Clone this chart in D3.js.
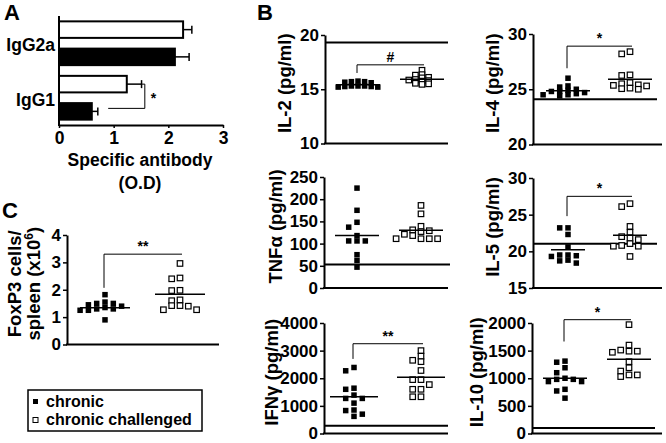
<!DOCTYPE html>
<html><head><meta charset="utf-8">
<script src="https://cdn.jsdelivr.net/npm/d3@7"></script>
<style>
body{margin:0;background:#fff}
svg{display:block}
text{font-family:"Liberation Sans",Arial,sans-serif;font-weight:bold;fill:#000}
</style>
</head><body>
<svg id="chart" width="666" height="443"></svg>
<script>
// ---------- DATA ----------
const groups = ["chronic", "chronic challenged"];

// Panel A: specific antibody (O.D)
const abCategories = ["IgG2a", "IgG1"];
const abChallenged = [2.27, 1.24];
const abChallengedErr = [0.16, 0.27];
const abChronic = [2.12, 0.60];
const abChronicErr = [0.26, 0.11];
const abTicks = [0, 1, 2, 3];

// Panel B cytokines
const il2Chronic = [15.75, 15.7, 15.7, 15.65, 15.6, 15.3, 15.3, 15.3, 15.25, 15.25, 15.2, 15.2];
const il2Challenged = [16.75, 16.35, 16.3, 16.1, 16.05, 15.9, 15.85, 15.8, 15.75, 15.55, 15.5, 15.45];
const il2Means = [15.42, 15.93];
const il2Ticks = [10, 15, 20];

const il4Chronic = [26.0, 25.3, 25.2, 25.0, 24.9, 24.8, 24.8, 24.7, 24.6, 24.5, 24.5, 24.4];
const il4Challenged = [28.4, 28.2, 26.3, 26.25, 25.6, 25.5, 25.4, 25.35, 25.3, 25.1, 25.05, 25.0];
const il4Means = [24.87, 25.9];
const il4Ticks = [20, 25, 30];

const tnfChronic = [225, 175, 148, 137, 118, 106, 106, 106, 75, 62, 47];
const tnfChallenged = [186, 167, 139, 131, 129, 127, 121, 118, 111, 111, 111, 111];
const tnfMeans = [118, 130];
const tnfTicks = [0, 50, 100, 150, 200, 250];

const il5Chronic = [23.2, 23.2, 22.3, 20.6, 19.5, 19.5, 19.4, 19.3, 18.8, 18.7, 18.4];
const il5Challenged = [26.5, 26.1, 23.4, 22.6, 22.0, 21.8, 21.6, 21.05, 20.8, 20.7, 20.7, 19.3];
const il5Means = [20.2, 22.2];
const il5Ticks = [15, 20, 25, 30];

const ifnChronic = [2390, 2270, 1640, 1600, 1390, 1270, 1270, 1100, 850, 830, 700, 620];
const ifnChallenged = [3000, 2800, 2650, 2600, 2280, 1950, 1950, 1770, 1600, 1600, 1330, 1330];
const ifnMeans = [1330, 2036];
const ifnTicks = [0, 1000, 2000, 3000, 4000];

const il10Chronic = [1310, 1290, 1190, 1100, 1000, 980, 980, 940, 940, 800, 770, 640];
const il10Challenged = [1970, 1600, 1510, 1490, 1490, 1470, 1300, 1190, 1130, 1060, 1060, 1030];
const il10Means = [1000, 1345];
const il10Ticks = [0, 500, 1000, 1500, 2000];

// Panel C: FoxP3 cells / spleen (x10^6)
const foxChronic = [1.82, 1.55, 1.5, 1.5, 1.45, 1.4, 1.35, 1.3, 1.3, 1.25, 1.25, 0.9];
const foxChallenged = [2.96, 2.43, 2.40, 1.98, 1.97, 1.63, 1.60, 1.42, 1.42, 1.40, 1.27, 1.27];
const foxMeans = [1.34, 1.84];
const foxTicks = [0, 1, 2, 3, 4];

// ---------- DRAW ----------
const svg = d3.select("#chart");
const fmt = d3.format("d");

function styleAxis(sel, fs) {
  sel.select(".domain").attr("stroke", "#000").attr("stroke-width", 2);
  sel.selectAll(".tick line").attr("stroke", "#000").attr("stroke-width", 1.5);
  sel.selectAll(".tick text").style("font-size", fs + "px").style("font-weight", "bold")
     .style("font-family", '"Liberation Sans",Arial,sans-serif').attr("fill", "#000");
}

function spread(vals, y, cx, step, dxTh, dyTh) {
  const placed = [];
  return vals.map(v => {
    const py = y(v);
    for (let k = 0; k < 40; k++) {
      const off = k === 0 ? 0 : (k % 2 ? -1 : 1) * Math.ceil(k / 2) * step / 2;
      const px = cx + off;
      if (!placed.some(p => Math.abs(p[0] - px) < dxTh && Math.abs(p[1] - py) < dyTh)) {
        placed.push([px, py]);
        return [px, py];
      }
    }
    return [cx, py];
  });
}

function scatterPanel(o) {
  const g = svg.append("g");
  const y = d3.scaleLinear().domain(o.domain).range([o.bottom, o.top]);
  const x = d3.scalePoint().domain(groups).range([o.x0 + o.c1, o.x0 + o.c2]);
  const ax = g.append("g").attr("transform", `translate(${o.x0},0)`)
    .call(d3.axisLeft(y).tickValues(o.ticks).tickFormat(fmt).tickSize(4).tickPadding(2).tickSizeOuter(0));
  styleAxis(ax, 17);
  g.append("line").attr("x1", o.x0 - 1).attr("x2", o.x0 + o.w)
    .attr("y1", y(o.domain[0])).attr("y2", y(o.domain[0]))
    .attr("stroke", "#000").attr("stroke-width", 2);
  if (o.ref != null) {
    g.append("line").attr("x1", o.x0).attr("x2", o.x0 + o.refW)
      .attr("y1", y(o.ref)).attr("y2", y(o.ref))
      .attr("stroke", "#000").attr("stroke-width", 2);
  }
  const size = 5.5, step = o.step || 8.3;
  [o.a, o.b].forEach((vals, i) => {
    const pts = spread(vals, y, x(groups[i]), step, o.dxTh || 6, o.dyTh || 5);
    g.selectAll(null).data(pts).join("rect")
      .attr("x", d => d[0] - size / 2).attr("y", d => d[1] - size / 2)
      .attr("width", size).attr("height", size)
      .attr("fill", i === 0 ? "#000" : "#fff")
      .attr("stroke", "#000").attr("stroke-width", i === 0 ? 0 : 1.2);
  });
  g.selectAll(null).data(o.means).join("line")
    .attr("x1", (d, i) => x(groups[i]) - o.mw).attr("x2", (d, i) => x(groups[i]) + o.mw)
    .attr("y1", d => y(d)).attr("y2", d => y(d))
    .attr("stroke", "#000").attr("stroke-width", 1.5);
  if (o.sig) {
    const xl = x(groups[0]) - 1, xr = x(groups[1]) + 2;
    g.append("path").attr("d", `M${xl},${y(o.bDrop)}V${y(o.bTop)}H${xr}`)
      .attr("fill", "none").attr("stroke", "#000").attr("stroke-width", 1);
    g.append("text").attr("x", (xl + xr) / 2).attr("y", y(o.bTop) - 3)
      .attr("text-anchor", "middle").style("font-size", "14px").text(o.sig);
  }
  const cy = (o.top + o.bottom) / 2 - 6;
  g.append("text").attr("transform", `translate(${o.lx},${cy}) rotate(-90)`)
    .attr("text-anchor", "middle").attr("dy", "0.35em").style("font-size", "18.5px").text(o.label);
  if (o.label2) {
    const t2 = g.append("text").attr("transform", `translate(${o.lx2},${cy}) rotate(-90)`)
      .attr("text-anchor", "middle").attr("dy", "0.35em").style("font-size", "18.5px");
    t2.append("tspan").text(o.label2[0]);
    t2.append("tspan").attr("dy", -7).style("font-size", "12px").text(o.label2[1]);
    t2.append("tspan").attr("dy", 7).text(o.label2[2]);
  }
}

scatterPanel({x0: 325, w: 123, top: 35, bottom: 143.5, domain: [10, 20], ticks: il2Ticks,
  a: il2Chronic, b: il2Challenged, means: il2Means, ref: 19.3, refW: 123, c1: 33, c2: 97, mw: 22,
  step: 6.6, dxTh: 6, dyTh: 3, sig: "#", bTop: 17.25, bDrop: 16.5, label: "IL-2 (pg/ml)", lx: 285});
scatterPanel({x0: 533, w: 129, top: 34, bottom: 144.5, domain: [20, 30], ticks: il4Ticks,
  a: il4Chronic, b: il4Challenged, means: il4Means, ref: 24.1, refW: 124, c1: 35, c2: 97, mw: 22,
  dyTh: 4, sig: "*", bTop: 28.9, bDrop: 26.9, label: "IL-4 (pg/ml)", lx: 493});
scatterPanel({x0: 324, w: 124, top: 177, bottom: 288, domain: [0, 250], ticks: tnfTicks,
  a: tnfChronic, b: tnfChallenged, means: tnfMeans, ref: 53, refW: 126, c1: 33, c2: 97, mw: 22,
  sig: null, label: "TNFα (pg/ml)", lx: 276});
scatterPanel({x0: 533, w: 129, top: 178, bottom: 288, domain: [15, 30], ticks: il5Ticks,
  a: il5Chronic, b: il5Challenged, means: il5Means, ref: 21.05, refW: 124, c1: 35, c2: 97, mw: 17,
  sig: "*", bTop: 27.5, bDrop: 24.8, label: "IL-5 (pg/ml)", lx: 493});
scatterPanel({x0: 324, w: 124, top: 323, bottom: 433.5, domain: [0, 4000], ticks: ifnTicks,
  a: ifnChronic, b: ifnChallenged, means: ifnMeans, ref: 280, refW: 124, c1: 30, c2: 97, mw: 24,
  sig: "**", bTop: 3250, bDrop: 2700, label: "IFNγ (pg/ml)", lx: 272});
scatterPanel({x0: 532, w: 130, top: 323, bottom: 433.5, domain: [0, 2000], ticks: il10Ticks,
  a: il10Chronic, b: il10Challenged, means: il10Means, ref: 100, refW: 123, c1: 33, c2: 97, mw: 22,
  sig: "*", bTop: 2060, bDrop: 1665, label: "IL-10 (pg/ml)", lx: 477});
scatterPanel({x0: 67, w: 152, top: 235, bottom: 344.5, domain: [0, 4], ticks: foxTicks,
  a: foxChronic, b: foxChallenged, means: foxMeans, ref: null, c1: 38, c2: 113, mw: 25,
  dyTh: 4.5, sig: "**", bTop: 3.3, bDrop: 2.07, label: "FoxP3 cells/", lx: 15,
  label2: ["spleen (x10", "6", ")"], lx2: 34});

// Panel A bars
(function () {
  const g = svg.append("g");
  const x = d3.scaleLinear().domain([0, 3]).range([59, 223]);
  const rows = [];
  abCategories.forEach((c, i) => {
    rows.push({key: c + "-ch", v: abChallenged[i], e: abChallengedErr[i], fill: "#fff"});
    rows.push({key: c + "-c", v: abChronic[i], e: abChronicErr[i], fill: "#000"});
  });
  const y = d3.scaleBand().domain(rows.map(r => r.key)).range([16, 125]).paddingInner(0.32).paddingOuter(0.16);
  rows.forEach(r => {
    const cy = y(r.key) + y.bandwidth() / 2;
    g.append("line").attr("x1", x(r.v)).attr("x2", x(r.v + r.e)).attr("y1", cy).attr("y2", cy)
      .attr("stroke", "#000").attr("stroke-width", 1.5);
    g.append("line").attr("x1", x(r.v + r.e)).attr("x2", x(r.v + r.e)).attr("y1", cy - 4).attr("y2", cy + 4)
      .attr("stroke", "#000").attr("stroke-width", 1.5);
  });
  g.selectAll(null).data(rows).join("rect")
    .attr("x", x(0)).attr("y", d => y(d.key) + 1)
    .attr("width", d => x(d.v) - x(0)).attr("height", y.bandwidth() - 2)
    .attr("fill", d => d.fill).attr("stroke", "#000").attr("stroke-width", 2);
  const ax = g.append("g").attr("transform", "translate(0,125)")
    .call(d3.axisBottom(x).tickValues(abTicks).tickFormat(fmt).tickSize(3).tickPadding(4).tickSizeOuter(0));
  styleAxis(ax, 17.5);
  g.append("line").attr("x1", 59).attr("x2", 59).attr("y1", 16).attr("y2", 126)
    .attr("stroke", "#000").attr("stroke-width", 2);
  abCategories.forEach((c) => {
    const yc = (y(c + "-ch") + y.bandwidth() + y(c + "-c")) / 2 + 2;
    g.append("text").attr("x", 55).attr("y", yc).attr("dy", "0.35em").attr("text-anchor", "end")
      .style("font-size", "17.5px").text(c);
  });
  const yw = y("IgG1-ch") + y.bandwidth() / 2;
  const yb = y("IgG1-c") + y.bandwidth() / 2 - 3;
  g.append("path").attr("d", `M${x(abChallenged[1] + abChallengedErr[1])},${yw}H${x(1.57)}V${yb}H${x(0.9)}`)
    .attr("fill", "none").attr("stroke", "#000").attr("stroke-width", 1);
  g.append("text").attr("x", x(1.57) + 6).attr("y", (yw + yb) / 2 + 7).style("font-size", "14px").text("*");
  g.append("text").attr("x", 140).attr("y", 166).attr("text-anchor", "middle").style("font-size", "17.5px").text("Specific antibody");
  g.append("text").attr("x", 140).attr("y", 189).attr("text-anchor", "middle").style("font-size", "17.5px").text("(O.D)");
})();

svg.append("text").attr("x", 4).attr("y", 20).style("font-size", "22px").text("A");
svg.append("text").attr("x", 257).attr("y", 20).style("font-size", "22px").text("B");
svg.append("text").attr("x", 2).attr("y", 218).style("font-size", "22px").text("C");

// legend
(function () {
  const g = svg.append("g");
  g.append("rect").attr("x", 28).attr("y", 390).attr("width", 174).attr("height", 41)
    .attr("fill", "#fff").attr("stroke", "#000").attr("stroke-width", 1.5);
  groups.forEach((gname, i) => {
    const cy = 401.5 + i * 18.5;
    g.append("rect").attr("x", 33).attr("y", cy - 2.5).attr("width", 5).attr("height", 5)
      .attr("fill", i === 0 ? "#000" : "#fff").attr("stroke", "#000").attr("stroke-width", i === 0 ? 0 : 1);
    g.append("text").attr("x", 46).attr("y", cy + 5).style("font-size", "16px").text(gname);
  });
})();
</script>
</body></html>
